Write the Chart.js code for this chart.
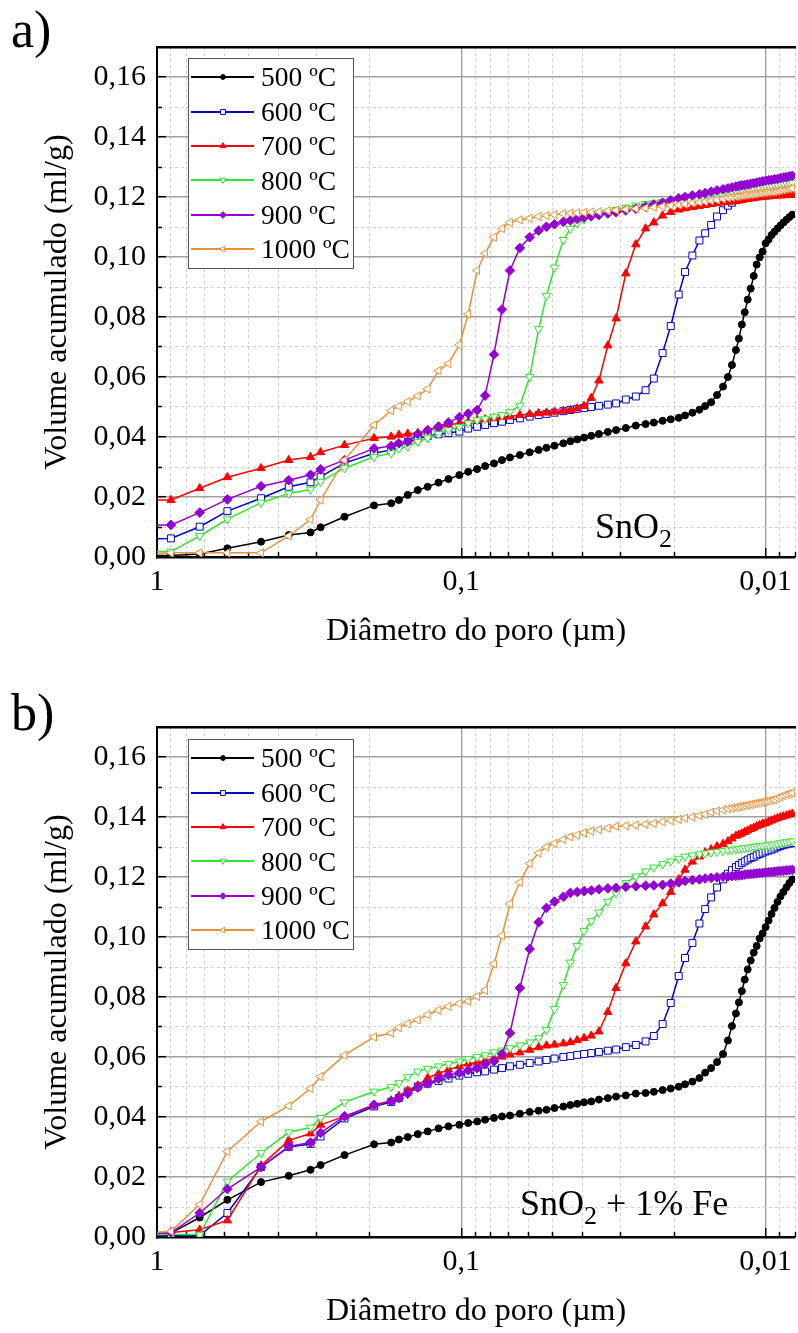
<!DOCTYPE html>
<html>
<head>
<meta charset="utf-8">
<script src="https://cdn.jsdelivr.net/npm/chart.js@4.4.1/dist/chart.umd.min.js"></script>
<style>
html, body { margin: 0; padding: 0; overflow: hidden; background: #fff; width: 798px; height: 1333px; }
.panel { position: absolute; left: 0; width: 801px; height: 680px; }
.panel canvas.plot { position: absolute; left: 0; top: 0; }
.txt { position: absolute; font-family: 'Liberation Serif', 'Times New Roman', serif; line-height: 1; color: #000; white-space: nowrap; }
.sub { position: relative; top: 9px; font-size: 26px; }
.legend { position: absolute; left: 188px; width: 166px; height: 211px; box-sizing: border-box;
  border: 1px solid #555; background: #fff; padding-top: 1px; }
.legend .row { height: 34.4px; display: flex; align-items: center; }
.legend .row canvas { display: block; }
.legend .row span { margin-left: 4px; font-family: 'Liberation Serif', 'Times New Roman', serif; font-size: 27.5px; line-height: 1; color: #000; }
</style>
</head>
<body>
<div class="panel" id="panelA" style="top:0px">
  <canvas class="plot" id="chartA" width="801" height="680"></canvas>
  <div class="txt" style="left:11px; top:3.5px; font-size:52px">a)</div>
  <div class="txt" style="left:595px; top:508px; font-size:36px">SnO<span class="sub">2</span></div>
  <div class="legend" id="legendA" style="top:58px"></div>
</div>
<div class="panel" id="panelB" style="top:680px">
  <canvas class="plot" id="chartB" width="801" height="680"></canvas>
  <div class="txt" style="left:11px; top:6.5px; font-size:52px">b)</div>
  <div class="txt" style="left:520px; top:505px; font-size:36px">SnO<span class="sub">2</span> + 1% Fe</div>
  <div class="legend" id="legendB" style="top:59px"></div>
</div>
<script>
// pore diameter (µm), same pressure steps for every sample
const diam = [1.054, 0.900, 0.724, 0.587, 0.455, 0.369, 0.313, 0.290, 0.242, 0.1935,
  0.170, 0.1604, 0.150, 0.139, 0.129, 0.1188, 0.1102, 0.1015, 0.0949, 0.0887,
  0.0835, 0.0781, 0.0735, 0.0692, 0.0642, 0.0596, 0.0557, 0.0525, 0.0494, 0.0462,
  0.0438, 0.0416, 0.0395, 0.0374, 0.0353, 0.0330, 0.0310, 0.0288, 0.0267, 0.0248,
  0.0233, 0.0218, 0.0205, 0.0193, 0.0184, 0.0174, 0.0165, 0.0158, 0.0151, 0.01444,
  0.0138, 0.0133, 0.0129, 0.01252, 0.01224, 0.01197, 0.01171, 0.01145, 0.01119, 0.01094,
  0.0107, 0.01046, 0.01023, 0.0100, 0.00978, 0.00956, 0.00935, 0.00914, 0.00894, 0.00874,
  0.00854, 0.00835, 0.00817];

const seriesLabels = ['500 ºC', '600 ºC', '700 ºC', '800 ºC', '900 ºC', '1000 ºC'];

// a) SnO2 - cumulative volume (ml/g)
const sno2_500 = [0.0005, 0.0005, 0.0010, 0.0029, 0.0051, 0.0073, 0.0082, 0.0099, 0.0134, 0.0172,
  0.0179, 0.0190, 0.0207, 0.0223, 0.0234, 0.0248, 0.0260, 0.0273, 0.0284, 0.0293,
  0.0303, 0.0312, 0.0323, 0.0332, 0.0340, 0.0349, 0.0357, 0.0364, 0.0371, 0.0379,
  0.0386, 0.0392, 0.0398, 0.0404, 0.0410, 0.0417, 0.0423, 0.0430, 0.0438, 0.0443,
  0.0448, 0.0454, 0.0459, 0.0464, 0.0472, 0.0481, 0.0491, 0.0503, 0.0516, 0.0540,
  0.0568, 0.0600, 0.0640, 0.0690, 0.0728, 0.0775, 0.0816, 0.0858, 0.0895, 0.0937,
  0.0975, 0.0999, 0.1018, 0.1046, 0.1058, 0.1073, 0.1084, 0.1095, 0.1105, 0.1115,
  0.1124, 0.1133, 0.1141];
const sno2_600 = [0.0060, 0.0062, 0.0101, 0.0153, 0.0196, 0.0234, 0.0249, 0.0268, 0.0313, 0.0346,
  0.0357, 0.0372, 0.0384, 0.0395, 0.0403, 0.0409, 0.0413, 0.0418, 0.0428, 0.0434,
  0.0440, 0.0446, 0.0451, 0.0457, 0.0462, 0.0468, 0.0473, 0.0477, 0.0481, 0.0486,
  0.0490, 0.0494, 0.0497, 0.0500, 0.0504, 0.0508, 0.0512, 0.0525, 0.0535, 0.0556,
  0.0595, 0.0680, 0.0770, 0.0875, 0.0950, 0.1005, 0.1055, 0.1079, 0.1107, 0.1135,
  0.1156, 0.1171, 0.1181, 0.1189, 0.1193, 0.1197, 0.1201, 0.1203, 0.1206, 0.1209,
  0.1211, 0.1213, 0.1215, 0.1217, 0.1219, 0.1221, 0.1222, 0.1224, 0.1225, 0.1226,
  0.1227, 0.1228, 0.1229];
const sno2_700 = [0.0190, 0.0190, 0.0229, 0.0266, 0.0296, 0.0323, 0.0333, 0.0349, 0.0373, 0.0396,
  0.0401, 0.0407, 0.0411, 0.0413, 0.0423, 0.0434, 0.0440, 0.0446, 0.0451, 0.0457,
  0.0459, 0.0462, 0.0466, 0.0468, 0.0473, 0.0476, 0.0479, 0.0481, 0.0484, 0.0487,
  0.0490, 0.0495, 0.0503, 0.0530, 0.0588, 0.0705, 0.0795, 0.0945, 0.1042, 0.1095,
  0.1115, 0.1138, 0.1150, 0.1158, 0.1162, 0.1166, 0.1170, 0.1173, 0.1176, 0.1179,
  0.1182, 0.1184, 0.1185, 0.1187, 0.1188, 0.1190, 0.1192, 0.1193, 0.1195, 0.1196,
  0.1198, 0.1199, 0.1200, 0.1201, 0.1202, 0.1203, 0.1204, 0.1205, 0.1205, 0.1206,
  0.1206, 0.1207, 0.1207];
const sno2_800 = [0.0018, 0.0018, 0.0070, 0.0126, 0.0181, 0.0212, 0.0225, 0.0251, 0.0296, 0.0334,
  0.0346, 0.0362, 0.0368, 0.0384, 0.0396, 0.0410, 0.0423, 0.0434, 0.0446, 0.0456,
  0.0461, 0.0468, 0.0473, 0.0484, 0.0505, 0.0600, 0.0760, 0.0870, 0.0965, 0.1057,
  0.1094, 0.1112, 0.1126, 0.1135, 0.1143, 0.1150, 0.1157, 0.1165, 0.1172, 0.1177,
  0.1181, 0.1184, 0.1188, 0.1194, 0.1198, 0.1201, 0.1204, 0.1207, 0.1210, 0.1212,
  0.1215, 0.1218, 0.1220, 0.1222, 0.1223, 0.1225, 0.1226, 0.1227, 0.1228, 0.1229,
  0.1230, 0.1232, 0.1234, 0.1236, 0.1237, 0.1239, 0.1240, 0.1241, 0.1242, 0.1243,
  0.1244, 0.1245, 0.1246];
const sno2_900 = [0.0107, 0.0107, 0.0148, 0.0192, 0.0236, 0.0256, 0.0274, 0.0292, 0.0323, 0.0362,
  0.0370, 0.0379, 0.0384, 0.0410, 0.0423, 0.0435, 0.0448, 0.0466, 0.0478, 0.0490,
  0.0538, 0.0675, 0.0825, 0.0955, 0.1030, 0.1066, 0.1088, 0.1101, 0.1109, 0.1117,
  0.1122, 0.1127, 0.1132, 0.1136, 0.1140, 0.1145, 0.1149, 0.1155, 0.1161, 0.1168,
  0.1175, 0.1181, 0.1189, 0.1196, 0.1200, 0.1205, 0.1209, 0.1213, 0.1218, 0.1222,
  0.1226, 0.1229, 0.1232, 0.1235, 0.1237, 0.1239, 0.1240, 0.1242, 0.1244, 0.1246,
  0.1248, 0.1250, 0.1252, 0.1254, 0.1256, 0.1257, 0.1259, 0.1260, 0.1263, 0.1265,
  0.1267, 0.1269, 0.1271];
const sno2_1000 = [0.0010, 0.0014, 0.0014, 0.0014, 0.0014, 0.0070, 0.0125, 0.0190, 0.0323, 0.0440,
  0.0488, 0.0503, 0.0518, 0.0537, 0.0560, 0.0621, 0.0645, 0.0707, 0.0810, 0.0955,
  0.1012, 0.1066, 0.1095, 0.1115, 0.1124, 0.1129, 0.1135, 0.1138, 0.1141, 0.1144,
  0.1146, 0.1147, 0.1148, 0.1150, 0.1151, 0.1154, 0.1156, 0.1159, 0.1161, 0.1163,
  0.1166, 0.1169, 0.1171, 0.1174, 0.1176, 0.1180, 0.1183, 0.1185, 0.1188, 0.1190,
  0.1194, 0.1197, 0.1199, 0.1201, 0.1203, 0.1205, 0.1206, 0.1207, 0.1208, 0.1210,
  0.1211, 0.1213, 0.1214, 0.1215, 0.1216, 0.1217, 0.1218, 0.1220, 0.1222, 0.1224,
  0.1226, 0.1228, 0.1229];

// b) SnO2 + 1% Fe - cumulative volume (ml/g)
const sno2fe_500 = [0.0002, 0.0013, 0.0065, 0.0124, 0.0183, 0.0204, 0.0224, 0.0240, 0.0273, 0.0309,
  0.0315, 0.0325, 0.0333, 0.0343, 0.0352, 0.0362, 0.0369, 0.0374, 0.0380, 0.0385,
  0.0391, 0.0397, 0.0402, 0.0405, 0.0411, 0.0417, 0.0421, 0.0424, 0.0430, 0.0435,
  0.0440, 0.0444, 0.0449, 0.0452, 0.0458, 0.0463, 0.0468, 0.0472, 0.0478, 0.0480,
  0.0484, 0.0490, 0.0495, 0.0501, 0.0509, 0.0518, 0.0530, 0.0548, 0.0563, 0.0583,
  0.0610, 0.0655, 0.0703, 0.0745, 0.0782, 0.0820, 0.0858, 0.0892, 0.0922, 0.0948,
  0.0970, 0.0995, 0.1012, 0.1033, 0.1055, 0.1077, 0.1097, 0.1117, 0.1135, 0.1150,
  0.1166, 0.1180, 0.1192];
const sno2fe_600 = [0.0003, 0.0005, 0.0005, 0.0080, 0.0233, 0.0300, 0.0310, 0.0335, 0.0395, 0.0435,
  0.0450, 0.0463, 0.0485, 0.0502, 0.0511, 0.0520, 0.0528, 0.0538, 0.0544, 0.0549,
  0.0552, 0.0558, 0.0563, 0.0569, 0.0574, 0.0580, 0.0585, 0.0590, 0.0595, 0.0600,
  0.0603, 0.0607, 0.0610, 0.0613, 0.0617, 0.0621, 0.0625, 0.0633, 0.0640, 0.0652,
  0.0670, 0.0710, 0.0780, 0.0870, 0.0930, 0.0980, 0.1045, 0.1093, 0.1132, 0.1165,
  0.1192, 0.1211, 0.1223, 0.1233, 0.1240, 0.1247, 0.1252, 0.1258, 0.1263, 0.1267,
  0.1272, 0.1277, 0.1281, 0.1285, 0.1288, 0.1291, 0.1295, 0.1299, 0.1303, 0.1306,
  0.1309, 0.1311, 0.1313];
const sno2fe_700 = [0.0015, 0.0015, 0.0024, 0.0055, 0.0238, 0.0322, 0.0345, 0.0374, 0.0402, 0.0438,
  0.0455, 0.0470, 0.0488, 0.0505, 0.0530, 0.0545, 0.0558, 0.0569, 0.0578, 0.0582,
  0.0588, 0.0595, 0.0601, 0.0608, 0.0615, 0.0624, 0.0632, 0.0638, 0.0641, 0.0645,
  0.0649, 0.0656, 0.0663, 0.0671, 0.0685, 0.0750, 0.0830, 0.0912, 0.0985, 0.1035,
  0.1075, 0.1112, 0.1150, 0.1192, 0.1224, 0.1251, 0.1268, 0.1282, 0.1292, 0.1302,
  0.1310, 0.1319, 0.1328, 0.1337, 0.1341, 0.1345, 0.1350, 0.1355, 0.1360, 0.1364,
  0.1369, 0.1373, 0.1377, 0.1380, 0.1384, 0.1388, 0.1392, 0.1396, 0.1399, 0.1402,
  0.1405, 0.1408, 0.1411];
const sno2fe_800 = [0.0008, 0.0008, 0.0008, 0.0185, 0.0280, 0.0349, 0.0365, 0.0397, 0.0449, 0.0485,
  0.0500, 0.0513, 0.0533, 0.0552, 0.0561, 0.0569, 0.0577, 0.0585, 0.0593, 0.0600,
  0.0606, 0.0616, 0.0622, 0.0630, 0.0639, 0.0649, 0.0663, 0.0690, 0.0760, 0.0840,
  0.0915, 0.0970, 0.1020, 0.1053, 0.1082, 0.1118, 0.1146, 0.1180, 0.1202, 0.1219,
  0.1232, 0.1243, 0.1252, 0.1261, 0.1268, 0.1272, 0.1276, 0.1279, 0.1282, 0.1284,
  0.1287, 0.1289, 0.1291, 0.1292, 0.1294, 0.1295, 0.1297, 0.1298, 0.1299, 0.1300,
  0.1302, 0.1303, 0.1304, 0.1305, 0.1306, 0.1308, 0.1309, 0.1311, 0.1313, 0.1315,
  0.1316, 0.1318, 0.1319];
const sno2fe_900 = [0.0010, 0.0015, 0.0080, 0.0160, 0.0233, 0.0302, 0.0315, 0.0347, 0.0402, 0.0441,
  0.0452, 0.0463, 0.0478, 0.0498, 0.0512, 0.0528, 0.0540, 0.0547, 0.0556, 0.0563,
  0.0576, 0.0586, 0.0610, 0.0680, 0.0830, 0.0960, 0.1049, 0.1097, 0.1118, 0.1134,
  0.1147, 0.1150, 0.1153, 0.1155, 0.1159, 0.1162, 0.1164, 0.1167, 0.1169, 0.1171,
  0.1172, 0.1174, 0.1178, 0.1182, 0.1187, 0.1190, 0.1192, 0.1195, 0.1197, 0.1199,
  0.1201, 0.1202, 0.1203, 0.1204, 0.1205, 0.1206, 0.1208, 0.1209, 0.1210, 0.1211,
  0.1212, 0.1213, 0.1214, 0.1215, 0.1216, 0.1217, 0.1218, 0.1219, 0.1220, 0.1221,
  0.1222, 0.1223, 0.1224];
const sno2fe_1000 = [0.0013, 0.0019, 0.0108, 0.0285, 0.0385, 0.0437, 0.0495, 0.0535, 0.0606, 0.0667,
  0.0680, 0.0698, 0.0711, 0.0724, 0.0741, 0.0756, 0.0769, 0.0778, 0.0786, 0.0802,
  0.0822, 0.0910, 0.1005, 0.1110, 0.1182, 0.1245, 0.1280, 0.1300, 0.1312, 0.1325,
  0.1334, 0.1340, 0.1347, 0.1353, 0.1358, 0.1363, 0.1369, 0.1371, 0.1373, 0.1376,
  0.1379, 0.1384, 0.1388, 0.1392, 0.1396, 0.1400, 0.1405, 0.1409, 0.1416, 0.1420,
  0.1424, 0.1427, 0.1430, 0.1432, 0.1434, 0.1436, 0.1438, 0.1440, 0.1442, 0.1444,
  0.1446, 0.1448, 0.1450, 0.1452, 0.1454, 0.1456, 0.1458, 0.1463, 0.1467, 0.1471,
  0.1475, 0.1478, 0.1480];

// axes
const xMajorTicks = [1, 0.1, 0.01];
const xTickLabels = ['1', '0,1', '0,01'];
const xMinorTicks = [0.9, 0.8, 0.7, 0.6, 0.5, 0.4, 0.3, 0.2,
  0.09, 0.08, 0.07, 0.06, 0.05, 0.04, 0.03, 0.02, 0.009, 0.008];
const yMajorTicks = [0, 0.02, 0.04, 0.06, 0.08, 0.10, 0.12, 0.14, 0.16];
const yTickLabels = ['0,00', '0,02', '0,04', '0,06', '0,08', '0,10', '0,12', '0,14', '0,16'];
const yMinorTicks = [0.01, 0.03, 0.05, 0.07, 0.09, 0.11, 0.13, 0.15];

// series styles
const seriesColors = ['#000000', '#0000cc', '#ff0000', '#2ee62e', '#9400d3', '#e8913c'];
const markerStyles = ['circle', 'rect', 'triangle', 'triangle', 'rectRot', 'triangle'];
const markerRotation = [0, 0, 0, 180, 0, -90];
const markerRadius = [3.5, 4.9, 4.8, 4.8, 4.8, 4.8];
const markerFilled = [true, false, true, false, true, false];

Chart.defaults.font.family = "'Liberation Serif', 'Times New Roman', serif";
Chart.defaults.color = '#000';

function noPad(s) {
  s.paddingLeft = 0; s.paddingRight = 0; s.paddingTop = 0; s.paddingBottom = 0;
}

function buildChart(canvasId, seriesValues) {
  const datasets = seriesValues.map((vals, k) => ({
    label: seriesLabels[k],
    data: diam.map((d, i) => ({ x: d, y: vals[i] })),
    borderColor: seriesColors[k],
    backgroundColor: seriesColors[k],
    borderWidth: 1.5,
    pointStyle: markerStyles[k],
    pointRotation: markerRotation[k],
    pointRadius: markerRadius[k],
    pointBorderWidth: 1,
    pointBorderColor: seriesColors[k],
    pointBackgroundColor: markerFilled[k] ? seriesColors[k] : '#ffffff',
    fill: false,
    tension: 0,
    clip: 0,
    order: seriesValues.length - k
  }));

  const xRange = { type: 'logarithmic', reverse: true, min: 0.008, max: 1 };
  const yRange = { type: 'linear', min: 0, max: 0.17 };

  return new Chart(document.getElementById(canvasId), {
    type: 'line',
    data: { datasets: datasets },
    options: {
      responsive: false,
      animation: false,
      events: [],
      layout: { padding: { top: 47, left: 0, right: 0, bottom: 0 } },
      plugins: { legend: { display: false }, tooltip: { enabled: false } },
      scales: {
        x: Object.assign({}, xRange, {
          position: 'bottom', weight: 1,
          afterBuildTicks: s => { s.ticks = xMajorTicks.map(v => ({ value: v })); },
          afterFit: s => { s.height = 123; noPad(s); },
          ticks: { autoSkip: false, maxRotation: 0, padding: 16.5, font: { size: 30 },
            callback: (v, i) => xTickLabels[i] },
          grid: { color: '#a0a0a0', lineWidth: 1.4, tickLength: -9, tickColor: '#000', tickWidth: 1.5 },
          border: { display: true, color: '#000', width: 2.5 },
          title: { display: true, text: 'Diâmetro do poro (µm)', font: { size: 32 },
            padding: { top: 0, bottom: 29 } }
        }),
        xMinor: Object.assign({}, xRange, {
          position: 'bottom', weight: 0,
          afterBuildTicks: s => { s.ticks = xMinorTicks.map(v => ({ value: v })); },
          afterFit: s => { s.height = 0; noPad(s); },
          ticks: { display: false },
          grid: { color: '#d0d0d0', lineWidth: 1, tickLength: -5, tickColor: '#000', tickWidth: 1.5 },
          border: { display: false, dash: [3, 3] }
        }),
        xTop: Object.assign({}, xRange, {
          position: 'top',
          afterBuildTicks: s => { s.ticks = [{ value: 1 }]; },
          afterFit: s => { s.height = 0; noPad(s); },
          ticks: { display: false },
          grid: { display: false },
          border: { display: true, color: '#000', width: 2.5 }
        }),
        y: Object.assign({}, yRange, {
          position: 'left', weight: 1,
          afterBuildTicks: s => { s.ticks = yMajorTicks.map(v => ({ value: v })); },
          afterFit: s => { s.width = 157; noPad(s); },
          ticks: { autoSkip: false, padding: 20, font: { size: 30 },
            callback: (v, i) => yTickLabels[i] },
          grid: { color: '#a0a0a0', lineWidth: 1.4, tickLength: -9, tickColor: '#000', tickWidth: 1.5 },
          border: { display: true, color: '#000', width: 2 },
          title: { display: true, text: 'Volume acumulado (ml/g)', font: { size: 32 },
            padding: { top: 38, bottom: 0 } }
        }),
        yMinor: Object.assign({}, yRange, {
          position: 'left', weight: 0,
          afterBuildTicks: s => { s.ticks = yMinorTicks.map(v => ({ value: v })); },
          afterFit: s => { s.width = 0; noPad(s); },
          ticks: { display: false },
          grid: { color: '#d0d0d0', lineWidth: 1, tickLength: -5, tickColor: '#000', tickWidth: 1.5 },
          border: { display: false, dash: [3, 3] }
        })
      }
    }
  });
}

function buildLegend(elId) {
  const el = document.getElementById(elId);
  seriesLabels.forEach((name, k) => {
    const row = document.createElement('div');
    row.className = 'row';
    const cv = document.createElement('canvas');
    cv.width = 68; cv.height = 20;
    const c = cv.getContext('2d');
    c.strokeStyle = seriesColors[k];
    c.lineWidth = 2;
    c.beginPath(); c.moveTo(2, 10); c.lineTo(65, 10); c.stroke();
    c.fillStyle = markerFilled[k] ? seriesColors[k] : '#ffffff';
    c.lineWidth = 1;
    Chart.helpers.drawPoint(c, { pointStyle: markerStyles[k], rotation: markerRotation[k],
      radius: markerRadius[k] * 0.7, borderWidth: 1 }, 34, 10);
    const span = document.createElement('span');
    span.textContent = name;
    row.appendChild(cv);
    row.appendChild(span);
    el.appendChild(row);
  });
}

buildChart('chartA', [sno2_500, sno2_600, sno2_700, sno2_800, sno2_900, sno2_1000]);
buildChart('chartB', [sno2fe_500, sno2fe_600, sno2fe_700, sno2fe_800, sno2fe_900, sno2fe_1000]);
buildLegend('legendA');
buildLegend('legendB');
</script>
</body>
</html>
